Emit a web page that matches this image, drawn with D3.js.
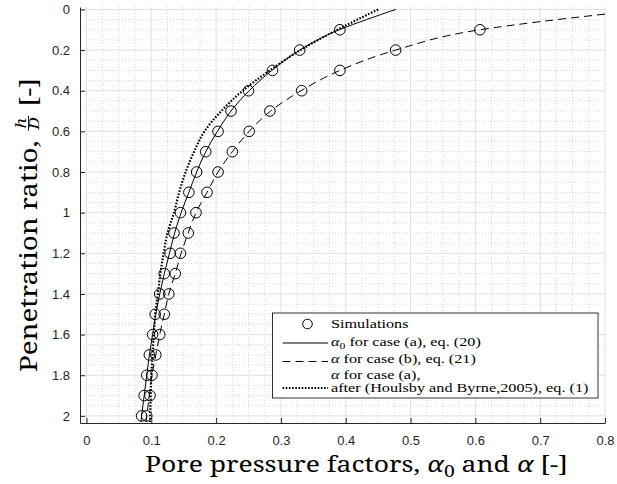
<!DOCTYPE html>
<html><head><meta charset="utf-8">
<script src="https://cdn.jsdelivr.net/npm/d3@7"></script>
<style>body{margin:0;background:#fff}</style>
</head><body><svg id="c" width="617" height="484"></svg>
<script>
// ---- data ----
const simH = [0.1,0.2,0.3,0.4,0.5,0.6,0.7,0.8,0.9,1.0,1.1,1.2,1.3,1.4,1.5,1.6,1.7,1.8,1.9,2.0];
const simAlphaA = [0.391,0.329,0.287,0.250,0.223,0.203,0.184,0.170,0.158,0.145,0.135,0.129,0.120,0.113,0.106,0.102,0.097,0.093,0.089,0.085];
const simAlphaB = [0.607,0.477,0.391,0.332,0.283,0.251,0.225,0.203,0.186,0.169,0.157,0.145,0.137,0.127,0.120,0.113,0.107,0.101,0.098,0.093];

const eq20H = [0,0.05,0.1,0.2,0.3,0.4,0.5,0.6,0.7,0.8,0.9,1.0,1.1,1.2,1.3,1.4,1.5,1.6,1.7,1.8,1.9,2.0,2.03];
const eq20Alpha = [0.477,0.432,0.390,0.329,0.286,0.251,0.223,0.202,0.184,0.170,0.158,0.146,0.136,0.128,0.120,0.113,0.107,0.102,0.097,0.093,0.089,0.085,0.084];

const eq21H = [0.023,0.06,0.1,0.2,0.3,0.4,0.5,0.6,0.7,0.8,0.9,1.0,1.1,1.2,1.3,1.4,1.5,1.6,1.7,1.8,1.9,2.0,2.03];
const eq21Alpha = [0.8,0.7,0.607,0.477,0.391,0.331,0.284,0.251,0.225,0.203,0.186,0.169,0.157,0.146,0.137,0.127,0.120,0.113,0.107,0.101,0.097,0.093,0.092];

const hbH = [0,0.05,0.1,0.2,0.3,0.4,0.5,0.6,0.7,0.8,0.9,1.0,1.1,1.2,1.3,1.4,1.5,1.6,1.7,1.8,1.9,2.03];
const hbAlpha = [0.450,0.418,0.387,0.330,0.283,0.241,0.208,0.182,0.166,0.153,0.143,0.135,0.125,0.119,0.114,0.110,0.106,0.104,0.102,0.100,0.099,0.098];

const xTicks = [0,0.1,0.2,0.3,0.4,0.5,0.6,0.7,0.8];
const yTicks = [0,0.2,0.4,0.6,0.8,1,1.2,1.4,1.6,1.8,2];
const legendLabels = ["Simulations","for case (a), eq. (20)","for case (b), eq. (21)","for case (a),","after (Houlsby and Byrne,2005), eq. (1)"];

// ---- layout ----
const svg = d3.select("#c");
const x = d3.scaleLinear().domain([-0.01,0.8]).range([80,605]);
const y = d3.scaleLinear().domain([-0.012,2.035]).range([7,423]);
const axisCol = "#262626";
const labelSerif = "'Noto Serif', 'Liberation Serif', serif";
const legSerif = "'Liberation Serif', serif";
const sans = "'Liberation Sans', Arial, sans-serif";

// grid
const g = svg.append("g");
const xMinor = d3.range(0,0.8001,0.025).filter(v=>Math.abs(v*10-Math.round(v*10))>1e-6);
const yMinor = d3.range(0,2.0001,0.05).filter(v=>Math.abs(v*5-Math.round(v*5))>1e-6);
g.selectAll(".xm").data(xMinor).join("line")
  .attr("x1",d=>x(d)).attr("x2",d=>x(d)).attr("y1",y.range()[0]).attr("y2",y.range()[1])
  .attr("stroke","#c4c4c4").attr("stroke-width",0.7).attr("stroke-dasharray","1,2");
g.selectAll(".ym").data(yMinor).join("line")
  .attr("y1",d=>y(d)).attr("y2",d=>y(d)).attr("x1",x.range()[0]).attr("x2",x.range()[1])
  .attr("stroke","#c4c4c4").attr("stroke-width",0.7).attr("stroke-dasharray","1,2");
g.selectAll(".xM").data(xTicks).join("line")
  .attr("x1",d=>x(d)).attr("x2",d=>x(d)).attr("y1",y.range()[0]).attr("y2",y.range()[1])
  .attr("stroke","#e0e0e0").attr("stroke-width",1);
g.selectAll(".yM").data(yTicks).join("line")
  .attr("y1",d=>y(d)).attr("y2",d=>y(d)).attr("x1",x.range()[0]).attr("x2",x.range()[1])
  .attr("stroke","#e0e0e0").attr("stroke-width",1);

// axes
const xAxis = svg.append("g").attr("transform","translate(0,423)")
  .call(d3.axisBottom(x).tickValues(xTicks).tickFormat(d3.format("~g")).tickSizeInner(-5).tickSizeOuter(0).tickPadding(13));
const yAxis = svg.append("g").attr("transform","translate(80,0)")
  .call(d3.axisLeft(y).tickValues(yTicks).tickFormat(d3.format("~g")).tickSizeInner(-5).tickSizeOuter(0).tickPadding(10));
[xAxis,yAxis].forEach(a=>{
  a.selectAll("path,line").attr("stroke",axisCol);
  a.selectAll("text").attr("fill",axisCol).style("font-family",sans).style("font-size","13px");
});

// curves
const lineGen = d3.line().x(d=>x(d[0])).y(d=>y(d[1])).curve(d3.curveMonotoneY);
svg.append("clipPath").attr("id","pc").append("rect")
  .attr("x",80).attr("y",7).attr("width",525).attr("height",416);
const plot = svg.append("g").attr("clip-path","url(#pc)");
plot.append("path").datum(d3.zip(eq20Alpha,eq20H)).attr("d",lineGen)
  .attr("fill","none").attr("stroke","#000").attr("stroke-width",1);
plot.append("path").datum(d3.zip(eq21Alpha,eq21H)).attr("d",lineGen)
  .attr("fill","none").attr("stroke","#000").attr("stroke-width",1).attr("stroke-dasharray","8,5");
plot.append("path").datum(d3.zip(hbAlpha,hbH)).attr("d",lineGen)
  .attr("fill","none").attr("stroke","#000").attr("stroke-width",2.2).attr("stroke-dasharray","1.6,1.6");
plot.selectAll(".ma").data(d3.zip(simAlphaA,simH)).join("circle")
  .attr("cx",d=>x(d[0])).attr("cy",d=>y(d[1])).attr("r",5.3)
  .attr("fill","none").attr("stroke","#000").attr("stroke-width",1);
plot.selectAll(".mb").data(d3.zip(simAlphaB,simH)).join("circle")
  .attr("cx",d=>x(d[0])).attr("cy",d=>y(d[1])).attr("r",5.3)
  .attr("fill","none").attr("stroke","#000").attr("stroke-width",1);

// legend
const lg = svg.append("g");
lg.append("rect").attr("x",272.5).attr("y",313).attr("width",325.5).attr("height",85)
  .attr("fill","#fff").attr("stroke","#000").attr("stroke-width",0.8);
lg.append("circle").attr("cx",307.5).attr("cy",324).attr("r",4.8).attr("fill","none").attr("stroke","#000");
lg.append("line").attr("x1",282.5).attr("x2",328).attr("y1",343).attr("y2",343).attr("stroke","#000");
lg.append("line").attr("x1",282.5).attr("x2",328).attr("y1",361.5).attr("y2",361.5).attr("stroke","#000").attr("stroke-dasharray","8,5");
lg.append("line").attr("x1",282.5).attr("x2",328).attr("y1",388).attr("y2",388).attr("stroke","#000").attr("stroke-width",2.2).attr("stroke-dasharray","1.6,1.6");
const lbase = [328,346.5,363.5,379.5,392];
const ltexts = legendLabels.map((t,i)=>{
  const tx = lg.append("text").attr("x",331).attr("y",lbase[i])
    .style("font-family",legSerif).style("font-size","12.5px").attr("fill","#000");
  if(i===1){ tx.append("tspan").style("font-style","italic").text("α");
    tx.append("tspan").attr("dy",2.5).style("font-size","9px").text("0");
    tx.append("tspan").attr("dy",-2.5).text(" "+t);}
  else if(i===2||i===3){ tx.append("tspan").style("font-style","italic").text("α");
    tx.append("tspan").text(" "+t);}
  else tx.text(t);
  return tx;
});
const lw = ltexts[4].node().getComputedTextLength();
const lsx = 257.6/lw;
ltexts.forEach((tx,i)=>{tx.attr("transform",`translate(331,${lbase[i]}) scale(${lsx},1) translate(-331,${-lbase[i]})`);});

// x label
const xl = svg.append("text").style("font-family",labelSerif).style("font-size","22px").attr("fill","#000");
xl.append("tspan").text("Pore pressure factors, ");
xl.append("tspan").style("font-style","italic").text("α");
xl.append("tspan").attr("dy",4.5).style("font-size","16px").text("0");
xl.append("tspan").attr("dy",-4.5).text(" and ");
xl.append("tspan").style("font-style","italic").text("α");
xl.append("tspan").text(" [-]");
const xw = xl.node().getComputedTextLength();
xl.attr("transform",`translate(145,472) scale(${423/xw},1)`);

// y label
const yl = svg.append("g");
const p1 = yl.append("text").style("font-family",labelSerif).style("font-size","24px").style("white-space","pre").text("Penetration ratio, ");
const w1 = p1.node().getComputedTextLength();
const fwid = 13;
const fx = w1 + 2;
yl.append("text").style("font-family",labelSerif).style("font-size","15px").style("font-style","italic").attr("text-anchor","middle")
  .attr("x",fx+fwid/2).attr("y",-11).text("h");
yl.append("text").style("font-family",labelSerif).style("font-size","15px").style("font-style","italic").attr("text-anchor","middle")
  .attr("x",fx+fwid/2).attr("y",2).text("D");
yl.append("line").attr("x1",fx).attr("x2",fx+fwid).attr("y1",-8.5).attr("y2",-8.5).attr("stroke","#000").attr("stroke-width",0.8);
const p2 = yl.append("text").style("font-family",labelSerif).style("font-size","24px").attr("x",fx+fwid+8).text("[-]");
const totW = fx+fwid+8+p2.node().getComputedTextLength();
const ysx = 294/totW;
yl.attr("transform",`translate(37,372) rotate(-90) scale(${ysx},1)`);
</script>
</body></html>
